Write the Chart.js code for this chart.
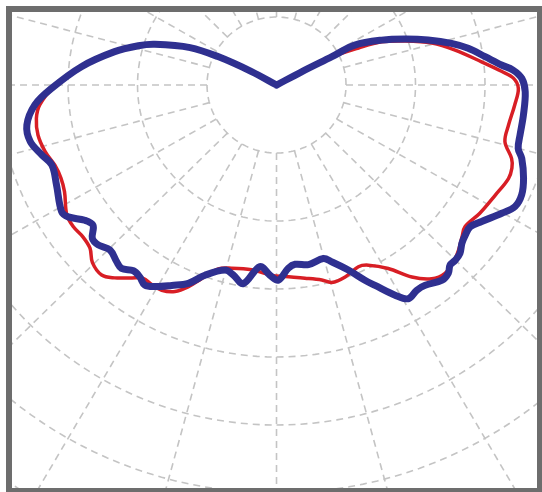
<!DOCTYPE html>
<html>
<head>
<meta charset="utf-8">
<title>Polar intensity diagram</title>
<script src="https://cdn.jsdelivr.net/npm/chart.js@4.4.1/dist/chart.umd.min.js"></script>
<style>
    html, body { margin: 0; padding: 0; background: #fff; }
    #frame {
        position: absolute;
        left: 6px;
        top: 6px;
        width: 525px;
        height: 476px;
        border: 6px solid #6d6d6d;
        background: #fff;
    }
    #frame canvas { display: block; }
</style>
</head>
<body>
<div id="frame"><canvas id="polarChart" width="525" height="476"></canvas></div>
<script>
// grid: rings every 100, spokes every 15 degrees (0 = straight down)
const ringValues = [100, 200, 300, 400, 500, 600, 700, 800, 900];
const spokeAngles = [0, 15, 30, 45, 60, 75, 90, 105, 120, 135, 150, 165,
    180, 195, 210, 225, 240, 255, 270, 285, 300, 315, 330, 345];

// C90-C270 plane (blue)
const blueAngles = [-120, -118.8, -116.4, -113.9, -108.9, -106.2, -101.9, -95.5, -89.1, -85.2,
    -80.7, -76.8, -73.1, -70.0, -65.1, -58.9, -57.1, -54.2, -52.0, -49.6,
    -47.5, -44.6, -41.5, -39.6, -37.0, -34.9, -32.8, -30.5, -27.1, -23.5,
    -20.2, -15.2, -12.6, -9.3, -5.1, -1.9, 0.5, 3.6, 5.8, 9.9,
    14.8, 17.0, 20.8, 23.9, 25.7, 28.9, 31.1, 33.8, 36.0, 39.7,
    41.8, 43.3, 44.9, 46.8, 48.9, 50.9, 53.2, 55.8, 59.8, 62.5,
    65.4, 68.9, 73.0, 75.0, 78.2, 82.9, 88.4, 91.6, 93.7, 95.2,
    97.9, 101.1, 103.7, 106.9, 110.1, 113.6, 117.5, 117.6, 118.4, 120];
const blueValues = [0, 41, 94, 136, 185, 207, 238, 282, 324, 349,
    364, 364, 353, 344, 349, 361, 357, 340, 335, 348,
    348, 341, 347, 350, 342, 344, 350, 344, 331, 318,
    298, 282, 286, 296, 268, 280, 287, 270, 265, 268,
    264, 272, 291, 314, 327, 353, 367, 363, 364, 373,
    371, 364, 364, 362, 354, 350, 348, 357, 375, 387,
    388, 381, 369, 360, 358, 358, 358, 353, 341, 325,
    303, 281, 259, 228, 197, 165, 127, 90, 41, 0];

// C0-C180 plane (red)
const redAngles = [-120, -118.8, -116.4, -113.9, -108.9, -106.2, -101.9, -95.5, -89.2, -85.1,
    -81.9, -77.9, -73.6, -69.7, -66.2, -62.8, -57.7, -54.5, -51.3, -48.2,
    -45.4, -42.0, -39.4, -36.3, -34.0, -31.5, -28.7, -25.7, -23.2, -20.7,
    -17.2, -13.5, -7.5, -1.4, 2.5, 8.2, 12.8, 15.3, 19.3, 23.8,
    26.5, 30.8, 34.6, 38.1, 41.2, 44.4, 47.2, 50.1, 52.5, 57.2,
    62.8, 67.6, 70.2, 72.3, 75.8, 80.0, 85.1, 89.2, 91.7, 93.5,
    96.6, 101.3, 105.4, 109.3, 112.8, 114.8, 117.3, 118.4, 120];
const redValues = [0, 41, 94, 136, 185, 207, 238, 282, 322, 342,
    349, 351, 347, 340, 339, 343, 357, 359, 357, 360,
    372, 376, 367, 352, 343, 344, 344, 337, 323, 304,
    283, 277, 274, 280, 282, 287, 294, 301, 299, 292,
    296, 314, 343, 362, 368, 364, 357, 348, 342, 348,
    354, 361, 360, 355, 339, 339, 344, 348, 341, 325,
    297, 262, 232, 196, 164, 130, 90, 41, 0];

// polar (angle from nadir, intensity) -> x/y in the same units
function toXY(angles, values) {
    return angles.map((a, i) => {
        const t = a * Math.PI / 180;
        return { x: values[i] * Math.sin(t), y: -values[i] * Math.cos(t) };
    });
}

const polarGrid = {
    id: 'polarGrid',
    beforeDatasetsDraw(chart) {
        const { ctx, chartArea, scales: { x, y } } = chart;
        const px = (r, a) => {
            const t = a * Math.PI / 180;
            return [x.getPixelForValue(r * Math.sin(t)), y.getPixelForValue(-r * Math.cos(t))];
        };
        ctx.save();
        ctx.beginPath();
        ctx.rect(chartArea.left, chartArea.top, chartArea.width, chartArea.height);
        ctx.clip();
        ctx.strokeStyle = '#c4c4c4';
        ctx.lineWidth = 1.6;
        ctx.setLineDash([7, 5]);

        ringValues.forEach(r => {
            ctx.beginPath();
            for (let a = 0; a <= 360; a += 2) {
                const [pX, pY] = px(r, a);
                if (a === 0) ctx.moveTo(pX, pY); else ctx.lineTo(pX, pY);
            }
            ctx.stroke();
        });

        const inner = ringValues[0];
        const outer = ringValues[ringValues.length - 1];
        spokeAngles.forEach(a => {
            const [x0, y0] = px(inner, a);
            const [x1, y1] = px(outer, a);
            ctx.beginPath();
            ctx.moveTo(x0, y0);
            ctx.lineTo(x1, y1);
            ctx.stroke();
        });
        ctx.restore();
    }
};

const ctx = document.getElementById('polarChart').getContext('2d');
new Chart(ctx, {
    type: 'scatter',
    data: {
        datasets: [{
            label: 'C90-C270',
            data: toXY(blueAngles, blueValues),
            showLine: true,
            borderColor: '#2f3090',
            borderWidth: 7,
            tension: 0.35,
            pointRadius: 0,
            borderJoinStyle: 'round',
            borderCapStyle: 'round'
        }, {
            label: 'C0-C180',
            data: toXY(redAngles, redValues),
            showLine: true,
            borderColor: '#d81e25',
            borderWidth: 3.5,
            tension: 0.35,
            pointRadius: 0,
            borderJoinStyle: 'round',
            borderCapStyle: 'round'
        }]
    },
    options: {
        responsive: false,
        animation: false,
        layout: { padding: 0 },
        scales: {
            x: { type: 'linear', min: -380.6, max: 374.8, display: false },
            y: { type: 'linear', min: -592.6, max: 107.4, display: false }
        },
        plugins: {
            legend: { display: false },
            tooltip: { enabled: false }
        }
    },
    plugins: [polarGrid]
});
</script>
</body>
</html>
